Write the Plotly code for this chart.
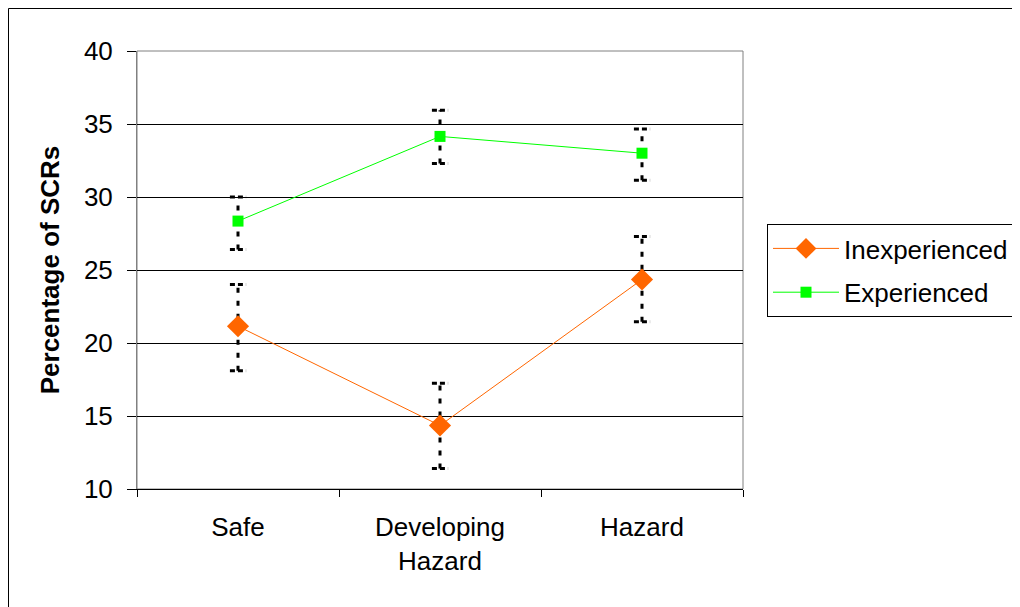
import plotly.graph_objects as go

categories = ["Safe", "Developing<br>Hazard", "Hazard"]
inexp = [21.15, 14.35, 24.35]
inexp_plus = [2.85, 2.9, 2.95]
inexp_minus = [3.05, 2.95, 2.9]
exper = [28.35, 34.15, 33.0]
exper_plus = [1.65, 1.8, 1.65]
exper_minus = [1.95, 1.85, 1.85]
yticks = [10, 15, 20, 25, 30, 35, 40]

FONT = "Arial, Liberation Sans, sans-serif"
xpos = list(range(len(categories)))
CAP = 0.04

fig = go.Figure()

def add_err(vals, plus, minus):
    xs, ys = [], []
    for x, v, p, m in zip(xpos, vals, plus, minus):
        xs += [x, x, None]
        ys += [v - m, v + p, None]
    fig.add_trace(go.Scatter(x=xs, y=ys, mode="lines", showlegend=False, hoverinfo="skip",
                             line=dict(color="black", width=3, dash="5px,8px")))
    cx, cy = [], []
    for x, v, p, m in zip(xpos, vals, plus, minus):
        for yy in (v - m, v + p):
            cx += [x - CAP, x + CAP, None]
            cy += [yy, yy, None]
    fig.add_trace(go.Scatter(x=cx, y=cy, mode="lines", showlegend=False, hoverinfo="skip",
                             line=dict(color="black", width=3, dash="5px,3px")))

add_err(inexp, inexp_plus, inexp_minus)
add_err(exper, exper_plus, exper_minus)

fig.add_trace(go.Scatter(x=xpos, y=inexp, name="Inexperienced", mode="lines+markers",
                         legendgroup="a",
                         line=dict(color="#FF6600", width=1),
                         marker=dict(symbol="diamond", size=17, color="#FF6600")))
fig.add_trace(go.Scatter(x=xpos, y=exper, name="Experienced", mode="lines+markers",
                         legendgroup="b",
                         line=dict(color="#00FF00", width=1),
                         marker=dict(symbol="square", size=11, color="#00FF00")))

# page has an 8px body margin; target plot area in screen px
OFF = 8
PL, PT, PW, PH = 137, 51, 606, 438
W, H = 1020 - OFF, 607 - OFF
L, T = PL - OFF, PT - OFF
R, B = W - L - PW, H - T - PH

def px(sx):
    return (sx - PL) / PW

def py(sy):
    return (PT + PH - sy) / PH

fig.update_layout(
    width=W, height=H,
    margin=dict(l=L, r=R, t=T, b=B, autoexpand=False),
    paper_bgcolor="white", plot_bgcolor="white",
    font=dict(family=FONT, size=26, color="black"),
    showlegend=True,
    legend=dict(x=px(767), y=py(224), xanchor="left", yanchor="top",
                bordercolor="black", borderwidth=1, bgcolor="white",
                font=dict(size=26), tracegroupgap=7, itemwidth=66),
    xaxis=dict(range=[-0.5, 2.5], tickvals=xpos, ticktext=categories, ticks="",
               showgrid=False, zeroline=False, showline=True, linecolor="black",
               linewidth=1, mirror=False, ticklabelstandoff=15,
               minor=dict(tickvals=[-0.5, 0.5, 1.5, 2.5], ticks="outside", ticklen=7,
                          tickcolor="black", showgrid=False)),
    yaxis=dict(range=[10, 40], tickvals=yticks, ticks="outside", ticklen=9, tickcolor="black",
               showgrid=True, gridcolor="black", gridwidth=1, zeroline=False,
               showline=True, linecolor="#808080", linewidth=1, ticklabelstandoff=9,
               title=dict(text="<b>Percentage of SCRs</b>", font=dict(size=26), standoff=16)),
    shapes=[
        dict(type="rect", xref="paper", yref="paper", x0=0, x1=1, y0=0, y1=1,
             line=dict(color="#808080", width=1), layer="below"),
        dict(type="rect", xref="paper", yref="paper",
             x0=px(OFF + 0.5), x1=px(1040), y0=py(640), y1=py(OFF + 0.5),
             line=dict(color="black", width=1)),
    ],
)

fig.write_html("out.html")
